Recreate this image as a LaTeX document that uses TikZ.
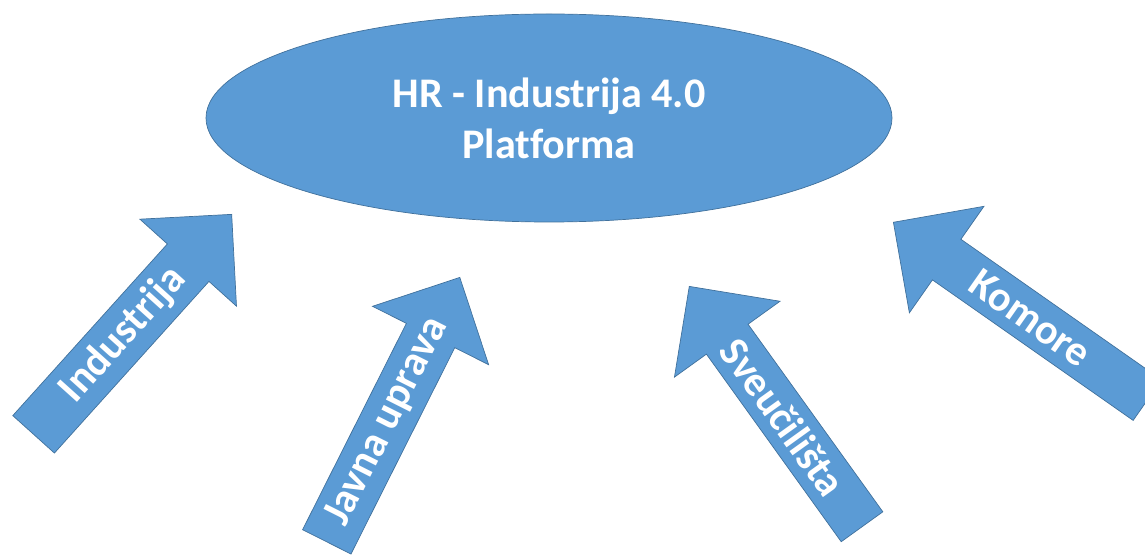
\documentclass[tikz,border=0pt]{standalone}
\usepackage{fontspec}
\setmainfont{Carlito}[Ligatures = NoCommon]
\usetikzlibrary{shapes.geometric,shapes.arrows}
\definecolor{plava}{HTML}{5B9BD5}
\definecolor{rub}{HTML}{41719C}
\begin{document}
\begin{tikzpicture}[scale = 1,
    platforma/.style = {ellipse, fill = plava, draw = rub, thin, minimum width = 13.72cm,
        minimum height = 4.16cm, text = white, align = center,
        font = \fontsize{24}{29}\selectfont\bfseries},
    strelica/.style = {single arrow, fill = plava, draw = rub, thin, anchor = tip,
        minimum width = 2.6cm, single arrow head extend = 0.65cm, minimum height = 5.92cm,
        inner xsep = 0pt, text = white, font = \fontsize{24}{29}\selectfont\bfseries}]
    \useasboundingbox (0,0) rectangle (22.9,11.14);
    \clip (0,0) rectangle (22.9,11.14);
    \node[platforma] (platforma) at (10.98, 8.78) {HR - Industrija 4.0\\Platforma};
    \node[strelica, rotate = 48] (industrija) at (4.64, 6.86) {Industrija};
    \node[strelica, rotate = 63.3] (uprava) at (9.20, 5.60) {Javna uprava};
    \node[strelica, rotate = -54.3, shape border rotate = 180] (sveucilista) at (13.78, 5.42) {Sveučilišta};
    \node[strelica, rotate = -35, shape border rotate = 180, minimum height = 6.2cm] (komore) at (17.86, 6.70) {Komore};
\end{tikzpicture}
\end{document}
